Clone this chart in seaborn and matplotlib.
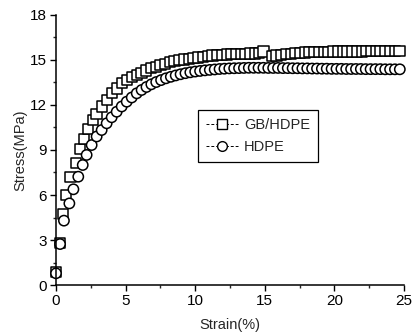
import numpy as np
import pandas as pd
import matplotlib
matplotlib.use("Agg")
import matplotlib.pyplot as plt
from matplotlib.lines import Line2D
from matplotlib.ticker import MultipleLocator
import seaborn as sns

# GB/HDPE (squares)
gb_strain = [0.0, 0.29, 0.48, 0.72, 1.05, 1.44, 1.72, 2.02, 2.32, 2.68, 2.92, 3.28,
             3.64, 4.0, 4.36, 4.72, 5.08, 5.44, 5.8, 6.14, 6.48, 6.82, 7.16, 7.5,
             7.84, 8.18, 8.52, 8.86, 9.2, 9.54, 9.88, 10.22, 10.56, 10.9, 11.24,
             11.58, 11.92, 12.26, 12.6, 12.94, 13.28, 13.62, 13.96, 14.3, 14.6,
             14.9, 15.5, 15.84, 16.18, 16.52, 16.86, 17.2, 17.54, 17.88, 18.22,
             18.56, 18.9, 19.24, 19.58, 19.92, 20.26, 20.6, 20.94, 21.28, 21.62,
             21.96, 22.3, 22.64, 22.98, 23.32, 23.66, 24.0, 24.34, 24.68]
gb_stress = [0.85, 2.78, 4.73, 6.0, 7.22, 8.15, 9.05, 9.75, 10.4, 11.0, 11.4, 11.9,
             12.33, 12.8, 13.1, 13.45, 13.67, 13.85, 14.0, 14.15, 14.3, 14.45, 14.55,
             14.65, 14.75, 14.85, 14.92, 14.98, 15.03, 15.08, 15.12, 15.17, 15.22,
             15.26, 15.3, 15.32, 15.34, 15.36, 15.38, 15.4, 15.41, 15.42, 15.43,
             15.44, 15.45, 15.56, 15.26, 15.3, 15.35, 15.38, 15.42, 15.45, 15.48,
             15.5, 15.52, 15.53, 15.54, 15.55, 15.55, 15.56, 15.56, 15.56, 15.57,
             15.57, 15.57, 15.57, 15.58, 15.58, 15.58, 15.58, 15.58, 15.58, 15.58,
             15.58]

# HDPE (circles)
hd_strain = [0.0, 0.29, 0.57, 0.96, 1.25, 1.6, 1.92, 2.2, 2.56, 2.92, 3.28, 3.64,
             4.0, 4.36, 4.72, 5.08, 5.44, 5.8, 6.15, 6.5, 6.85, 7.2, 7.55, 7.9,
             8.25, 8.6, 8.95, 9.3, 9.65, 10.0, 10.35, 10.7, 11.05, 11.4, 11.75,
             12.1, 12.45, 12.8, 13.15, 13.5, 13.85, 14.2, 14.55, 14.9, 15.25, 15.6,
             15.95, 16.3, 16.65, 17.0, 17.35, 17.7, 18.05, 18.4, 18.75, 19.1, 19.45,
             19.8, 20.15, 20.5, 20.85, 21.2, 21.55, 21.9, 22.25, 22.6, 22.95, 23.3,
             23.65, 24.0, 24.35, 24.7]
hd_stress = [0.78, 2.73, 4.29, 5.44, 6.38, 7.22, 8.0, 8.67, 9.33, 9.9, 10.33, 10.78,
             11.18, 11.55, 11.9, 12.22, 12.5, 12.78, 13.0, 13.2, 13.38, 13.53, 13.66,
             13.78, 13.88, 13.97, 14.05, 14.12, 14.18, 14.23, 14.27, 14.31, 14.34,
             14.37, 14.4, 14.42, 14.44, 14.45, 14.46, 14.47, 14.48, 14.48, 14.48,
             14.48, 14.47, 14.47, 14.47, 14.46, 14.46, 14.45, 14.45, 14.44, 14.44,
             14.43, 14.43, 14.42, 14.42, 14.41, 14.41, 14.41, 14.4, 14.4, 14.4,
             14.4, 14.39, 14.39, 14.39, 14.39, 14.38, 14.38, 14.38, 14.38]

df = pd.concat([
    pd.DataFrame({"strain": gb_strain, "stress": gb_stress, "sample": "GB/HDPE"}),
    pd.DataFrame({"strain": hd_strain, "stress": hd_stress, "sample": "HDPE"}),
])

sns.set_style("ticks")
plt.rcParams["font.family"] = ["Liberation Sans", "DejaVu Sans"]

fig = plt.figure(figsize=(4.13, 3.34), dpi=100)
ax = fig.add_axes([0.1356, 0.1467, 0.8426, 0.8084])

sns.scatterplot(data=df, x="strain", y="stress", style="sample",
                markers={"GB/HDPE": "s", "HDPE": "o"}, color="white",
                edgecolor="black", linewidth=1.1, s=55, legend=False,
                clip_on=False, ax=ax)

ax.set_xlim(0, 25)
ax.set_ylim(0, 18)
ax.xaxis.set_major_locator(MultipleLocator(5))
ax.xaxis.set_minor_locator(MultipleLocator(2.5))
ax.yaxis.set_major_locator(MultipleLocator(3))
ax.yaxis.set_minor_locator(MultipleLocator(1.5))
ax.tick_params(which="major", direction="out", length=4, width=1, labelsize=11,
               colors="black", pad=2.5)
ax.tick_params(which="minor", direction="out", length=2.5, width=1)
sns.despine(ax=ax)
for sp in ["left", "bottom"]:
    ax.spines[sp].set_linewidth(1.1)
    ax.spines[sp].set_color("black")

ax.set_xlabel("Strain(%)", fontsize=10.5, labelpad=7)
ax.set_ylabel("Stress(MPa)", fontsize=10.5, labelpad=2)

# legend: dashed lead-in, marker, short tail like the original
handles = [
    Line2D([], [], color="black", lw=0.7, ls=(0, (3, 2)), marker="s", markersize=7,
           markerfacecolor="white", markeredgecolor="black", markeredgewidth=1.0),
    Line2D([], [], color="black", lw=0.7, ls=(0, (3, 2)), marker="o", markersize=7,
           markerfacecolor="white", markeredgecolor="black", markeredgewidth=1.0),
]
leg = ax.legend(handles, ["GB/HDPE", "HDPE"], loc="upper left",
                bbox_to_anchor=(0.408, 0.648), fontsize=10.5, frameon=True,
                fancybox=False, edgecolor="black", framealpha=1,
                handlelength=2.2, handletextpad=0.4, borderpad=0.55,
                labelspacing=0.55, borderaxespad=0)
leg.get_frame().set_linewidth(0.9)

fig.savefig("out.png", dpi=100)
